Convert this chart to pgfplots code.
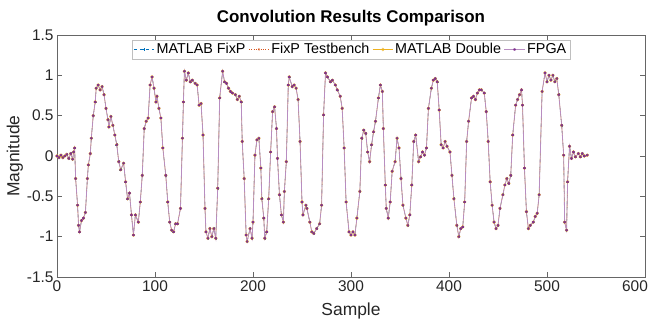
\documentclass[border=0pt]{standalone}
\usepackage{fontspec}
\setmainfont{Liberation Sans}
\usepackage{pgfplots}
\usepackage{pgfplotstable}
\pgfplotsset{compat=1.18}
\definecolor{mblue}{rgb}{0,0.447,0.741}
\definecolor{morange}{rgb}{0.85,0.325,0.098}
\definecolor{myellow}{rgb}{0.929,0.694,0.125}
\definecolor{mpurple}{rgb}{0.494,0.184,0.556}
\pgfplotstableread{
x y
0 0.00
2 -0.02
4 0.01
6 -0.02
8 0.00
10 0.02
12 -0.03
14 0.03
16 -0.04
17 0.05
18 0.10
19 -0.28
21 -0.61
22 -0.86
23 -0.94
25 -0.80
27 -0.77
29 -0.70
31 -0.28
32 -0.11
34 0.03
35 0.22
37 0.50
39 0.67
40 0.84
42 0.88
44 0.82
46 0.86
48 0.76
50 0.59
52 0.45
53 0.36
55 0.49
57 0.38
59 0.26
61 0.14
63 -0.07
65 -0.17
68 -0.09
70 -0.32
72 -0.53
74 -0.46
76 -0.73
78 -0.98
80 -0.73
83 -0.82
85 -0.57
87 -0.24
89 0.34
91 0.43
93 0.47
95 0.88
97 0.98
99 0.84
101 0.67
102 0.74
104 0.59
106 0.47
108 0.10
111 -0.24
113 -0.57
115 -0.82
117 -0.92
119 -0.94
121 -0.84
123 -0.84
126 -0.65
128 0.22
129 0.67
130 1.05
132 0.94
134 1.03
136 0.92
138 0.94
141 0.90
143 0.88
145 0.63
147 0.65
149 0.26
151 -0.65
152 -0.94
154 -1.02
156 -0.90
158 -1.00
160 -0.90
162 -1.02
164 -0.40
166 0.72
169 1.05
171 0.92
173 0.90
175 0.84
177 0.80
179 0.78
182 0.76
184 0.70
186 0.74
188 0.67
189 0.18
191 -0.28
193 -0.98
194 -1.06
197 -0.90
199 -1.02
200 -0.82
202 0.01
204 0.20
206 0.22
208 -0.15
209 -0.53
211 -0.77
212 -1.02
214 -0.94
216 -0.53
218 0.05
220 0.55
222 0.61
224 0.34
225 -0.03
227 -0.48
229 -0.73
231 -0.82
232 -0.44
234 -0.07
236 0.88
237 0.98
240 0.86
242 0.88
244 0.84
246 0.70
248 0.18
250 -0.57
251 -0.73
254 -0.61
255 -0.65
258 -0.82
260 -0.94
262 -0.96
265 -0.90
268 -0.84
270 -0.61
272 0.51
274 1.03
276 0.98
279 0.92
281 0.94
284 0.88
286 0.82
289 0.74
291 0.59
293 0.10
295 -0.57
298 -0.94
300 -0.98
302 -0.94
304 -0.98
306 -0.77
309 -0.44
311 0.22
313 0.32
315 0.28
317 0.05
319 -0.07
321 0.14
323 0.30
325 0.43
328 0.72
330 0.88
332 0.80
333 0.34
335 -0.36
336 -0.65
338 -0.77
340 -0.57
342 -0.19
345 -0.07
347 0.22
349 0.10
351 -0.28
353 -0.61
356 -0.77
358 -0.86
360 -0.73
362 -0.36
364 0.18
366 0.26
369 -0.07
371 -0.01
373 0.05
375 0.01
377 0.10
379 0.59
382 0.84
384 0.94
386 0.96
388 0.92
390 0.57
392 0.14
394 0.10
396 0.18
398 0.12
401 0.05
403 -0.24
405 -0.53
408 -0.86
410 -1.00
412 -0.90
414 -0.88
416 -0.57
418 0.18
420 0.43
423 0.72
425 0.74
427 0.70
429 0.78
431 0.82
433 0.82
436 0.78
438 0.55
440 0.18
442 -0.32
444 -0.61
446 -0.82
448 -0.90
450 -0.86
452 -0.65
455 -0.48
457 -0.36
459 -0.28
461 -0.34
463 -0.24
465 0.26
468 0.63
470 0.70
472 0.76
474 0.82
475 0.63
477 -0.15
479 -0.69
481 -0.90
483 -0.86
486 -0.82
488 -0.75
490 -0.71
492 -0.48
495 0.80
498 1.03
500 0.92
502 1.00
504 0.94
506 1.00
508 0.92
510 0.96
512 0.76
515 0.38
517 0.01
518 -0.82
520 -0.92
521 -0.32
523 0.12
525 -0.03
527 0.05
529 -0.01
532 0.03
534 -0.01
536 0.03
538 0.00
541 0.01
}\convdata
\begin{document}
\begin{tikzpicture}
\begin{axis}[
  name=main,
  scale only axis,
  width=588bp, height=242bp,
  xmin=0, xmax=600, ymin=-1.5, ymax=1.5,
  xtick={0,100,200,300,400,500,600},
  xticklabels={0,100,200,300,400,500,\makebox[0pt][c]{\hspace{-20bp}600}},
  ytick={-1.5,-1,-0.5,0,0.5,1,1.5},
  yticklabels={-1.5,-1,-0.5,0,0.5,1,1.5},
  /pgf/number format/assume math mode=true,
  tick align=inside,
  major tick length=5bp,
  every tick/.style={black!60},
  axis line style={black!60},
  tick label style={font=\fontsize{15.5}{15.5}\selectfont, text=black!85},
  xlabel={Sample},
  ylabel={Magnitude},
  label style={font=\fontsize{17.5}{17.5}\selectfont, text=black!85},
  xlabel style={yshift=-5bp},
  ylabel style={yshift=-3bp},
  title={Convolution Results Comparison},
  title style={font=\bfseries\fontsize{17}{17}\selectfont, inner ysep=11bp, yshift=-8.5bp},
  legend columns=4,
  legend style={at={(0.5,0.98)}, anchor=north, draw=black!25,
    font=\fontsize{14.4}{14.4}\selectfont, inner sep=1.5pt,
    /tikz/every even column/.append style={column sep=1pt}},
  legend image code/.code={
    \draw[mark repeat=2,mark phase=2] plot coordinates {(0cm,0cm) (0.36cm,0cm) (0.72cm,0cm)};},
]
\addplot[mblue, dashed, line width=0.4pt, mark=+, mark size=1.3pt, mark options={solid}] table {\convdata};
\addlegendentry{MATLAB FixP}
\addplot[morange, dotted, line width=0.4pt, mark=x, mark size=1.2pt, mark options={solid}] table {\convdata};
\addlegendentry{FixP Testbench}
\addplot[myellow, line width=0.4pt, mark=o, mark size=1.5pt] table {\convdata};
\addlegendentry{MATLAB Double}
\addplot[mpurple!55, line width=0.8pt, mark=asterisk, mark size=1.4pt, mark options={mpurple, line width=0.6pt}] table {\convdata};
\addlegendentry{FPGA}
\end{axis}
\pgfresetboundingbox
\path ([shift={(-57bp,-43bp)}]main.south west) rectangle ([shift={(4bp,35bp)}]main.north east);
\end{tikzpicture}
\end{document}
